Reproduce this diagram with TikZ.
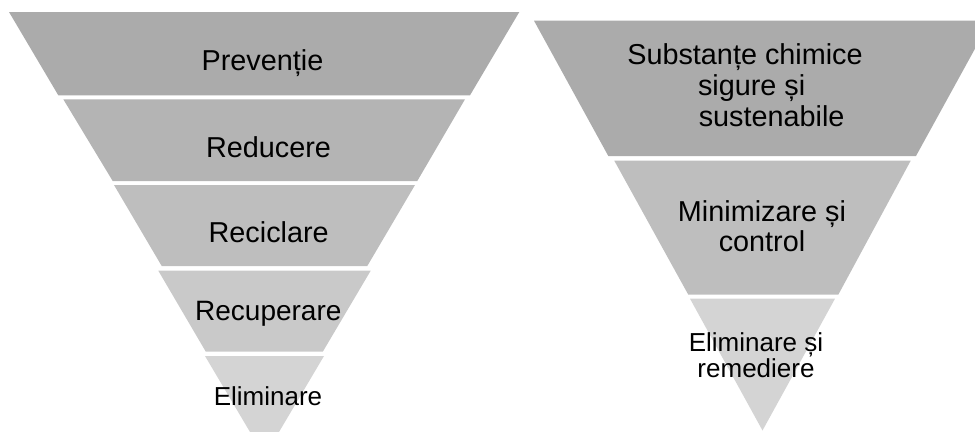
\documentclass[tikz,border=0pt]{standalone}
\usepackage{fontspec}
\setmainfont{Liberation Sans}

\definecolor{gA}{RGB}{171,171,171}
\definecolor{gB}{RGB}{180,180,180}
\definecolor{gC}{RGB}{190,190,190}
\definecolor{gD}{RGB}{201,201,201}
\definecolor{gE}{RGB}{212,212,212}

\begin{document}
\begin{tikzpicture}[
  x=0.75pt, y=-0.75pt,
  layer/.style={fill=#1, draw=none},
  lbl/.style={anchor=base, inner sep=0pt, align=center, font=\fontsize{21.6}{23.1}\selectfont},
  small/.style={lbl, font=\fontsize{19.5}{19.5}\selectfont}
]
\useasboundingbox (0,0) rectangle (975,432);
\clip (0,0) rectangle (975,432);

% Left pyramid
\fill[layer=gA] (9,12) -- (519.3,12) -- (470,95.3) -- (58.3,95.3) -- cycle;
\fill[layer=gB] (63.3,99.3) -- (465,99.3) -- (417.3,181) -- (112.7,181) -- cycle;
\fill[layer=gC] (114,185) -- (415,185) -- (367.3,266) -- (161.7,266) -- cycle;
\fill[layer=gD] (158.3,270.7) -- (370.7,270.7) -- (322.8,351.7) -- (205.8,351.7) -- cycle;
\fill[layer=gE] (205,356) -- (324,356) -- (264.5,456.5) -- cycle;

% Right pyramid
\fill[layer=gA] (534,20.7) -- (990.4,20.7) -- (916,156) -- (608.3,156) -- cycle;
\fill[layer=gC] (614.3,160.7) -- (910.7,160.7) -- (838.3,294.7) -- (688.3,294.7) -- cycle;
\fill[layer=gE] (690,298.7) -- (835,298.7) -- (762.5,430.5) -- cycle;

% Nodes (multi-line nodes sit on their last baseline)
\node[lbl] (preventie) at (262.5,70.7) {Prevenție};
\node[lbl] (reducere) at (268.5,157.3) {Reducere};
\node[lbl] (reciclare) at (268.7,242.3) {Reciclare};
\node[lbl, font=\fontsize{21}{23}\selectfont] (recuperare) at (268.3,320) {Recuperare};
\node[small] (eliminare) at (268,405) {Eliminare};

\node[lbl] (substante) at (745,126) {Substanțe chimice\\\hspace*{10pt}sigure și\\\hspace*{40pt}sustenabile};
\node[lbl, font=\fontsize{21.6}{22.5}\selectfont] (minimizare) at (762,251.7) {Minimizare și\\control};
\node[small] (remediere) at (756,377.7) {Eliminare și\\remediere};

\end{tikzpicture}
\end{document}
